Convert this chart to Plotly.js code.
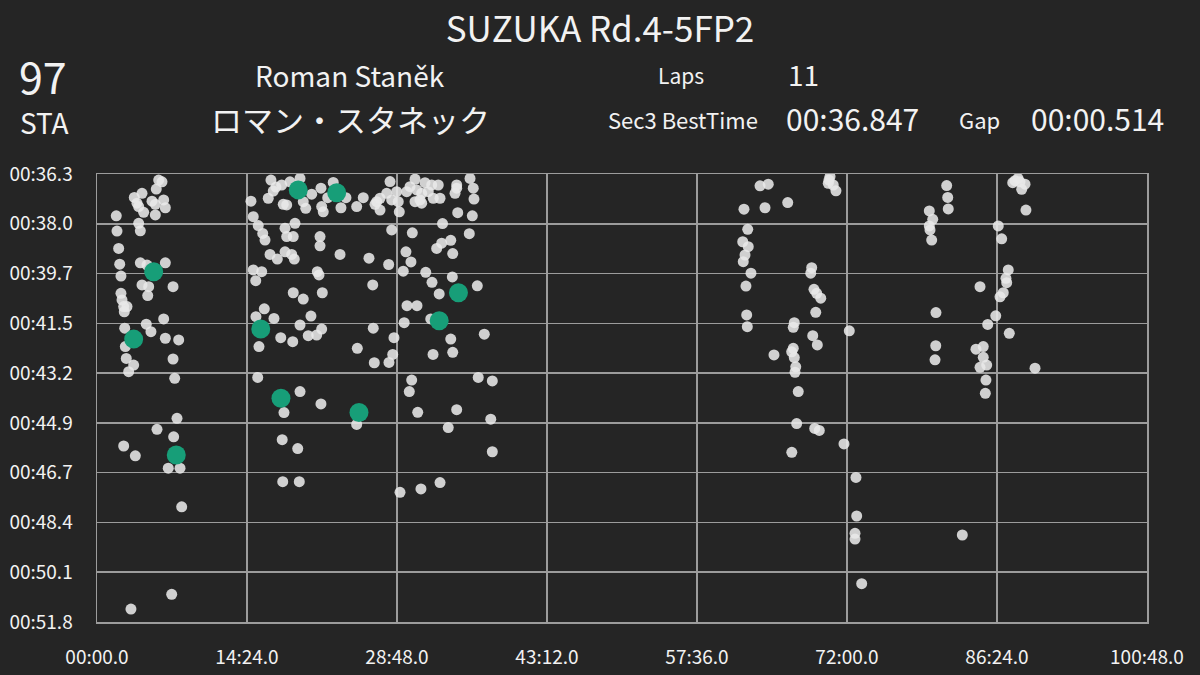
<!DOCTYPE html>
<html>
<head>
<meta charset="utf-8">
<script src="https://cdn.plot.ly/plotly-3.0.1.min.js"></script>
<style>html,body{margin:0;padding:0;background:#252525;}#chart{width:1200px;height:675px;}</style>
</head>
<body>
<div id="chart"></div>
<script>
// ---- Data ----
// Elapsed session time (minutes) and Sector 3 time (seconds) for all other laps
const otherElapsedMin = [
  5.92,6.24,5.69,4.32,3.58,3.84,4.00,5.28,5.60,6.40,6.56,4.48,5.60,1.85,4.00,4.16,1.92,2.08,2.18,2.30,
  4.16,4.80,6.56,4.32,4.96,7.30,4.87,2.30,2.40,2.56,2.88,2.62,6.40,4.73,5.18,2.66,6.56,7.84,2.72,2.81,
  3.52,3.04,7.30,7.46,7.68,5.76,7.36,2.56,3.68,6.84,7.97,8.13,7.17,3.26,
  16.70,17.73,16.92,16.44,14.78,18.53,19.49,20.61,21.50,22.68,23.90,25.56,24.93,23.42,21.57,21.72,20.04,17.88,18.21,19.80,
  22.15,26.69,27.17,27.17,17.18,
  15.00,15.48,15.91,16.13,19.01,18.05,18.21,18.84,21.41,21.41,16.61,17.31,18.05,18.69,18.94,23.33,26.11,15.00,15.81,15.24,
  21.15,21.31,18.84,19.80,21.63,26.47,
  16.06,15.26,16.99,19.49,20.54,21.57,21.09,20.28,17.64,18.79,15.55,24.99,26.52,26.62,15.43,19.49,21.50,17.95,24.93,17.78,
  19.27,17.83,19.42,
  28.13,30.53,31.49,32.13,32.76,34.53,35.81,36.12,34.37,34.53,29.73,28.77,27.81,26.85,28.29,28.92,30.69,31.17,31.80,31.01,
  32.28,32.93,30.53,29.02,31.17,36.19,34.63,36.03,30.05,
  28.29,30.27,33.17,35.74,33.96,33.09,32.61,34.15,29.66,30.14,28.00,29.40,31.56,34.11,32.16,36.51,32.85,29.76,30.72,29.49,
  32.04,28.51,33.96,37.18,32.26,34.15,28.39,28.03,30.21,29.98,36.60,37.95,30.79,34.53,37.80,33.72,37.95,32.93,31.10,29.09,
  70.37,70.20,70.68,70.94,70.27,63.65,64.44,62.11,64.13,66.31,62.47,61.99,62.52,62.21,62.04,62.78,62.30,62.37,62.43,68.61,
  68.52,68.83,69.09,69.48,69.00,66.94,66.84,68.71,69.15,72.22,64.99,66.84,66.69,66.94,67.08,67.01,67.32,67.17,68.90,69.34,
  71.71,66.70,72.86,72.93,72.77,72.77,73.41,
  81.57,81.67,81.72,79.90,80.23,79.90,79.97,80.13,88.13,88.61,89.09,87.91,88.77,88.42,89.18,86.52,86.85,87.48,87.26,87.33,
  84.77,87.00,86.69,80.54,86.28,85.51,87.58,80.52,80.45,85.08,84.38,85.08,85.41,84.77,90.05,85.34,85.28,83.07
];
const otherSec3 = [
  36.50,36.56,36.81,36.96,37.10,37.30,37.42,37.23,37.34,37.19,37.46,37.62,37.71,37.74,38.00,38.26,38.27,38.87,39.42,39.83,
  39.37,39.45,39.37,40.14,40.20,40.20,40.51,40.43,40.66,40.89,40.89,41.07,41.32,41.50,41.76,41.64,41.99,42.05,42.28,42.69,
  42.92,43.15,42.71,43.38,44.77,45.15,45.41,45.73,46.07,46.50,46.50,47.84,50.88,51.39,
  36.50,36.67,36.88,37.13,37.23,36.56,36.44,36.99,36.78,36.58,37.11,37.11,37.42,37.46,37.42,37.60,37.48,37.34,37.36,37.25,
  37.11,37.34,37.13,37.54,36.74,
  37.77,38.08,38.35,38.58,38.00,38.17,38.46,38.46,38.46,38.78,39.08,39.24,38.99,39.08,39.24,39.08,39.21,39.62,39.68,39.99,
  39.68,39.79,40.41,40.63,40.41,40.14,
  40.97,41.24,41.30,41.53,41.22,41.67,41.88,41.90,41.97,42.11,42.28,42.34,41.64,42.84,43.35,43.84,44.27,44.57,44.98,45.51,
  45.82,46.97,46.97,
  36.55,36.47,36.59,36.67,36.67,36.67,36.44,36.78,36.96,36.78,36.90,36.90,36.96,37.25,37.19,37.25,36.84,36.96,36.90,37.19,
  37.13,37.13,37.25,37.60,37.30,37.16,37.63,37.74,36.73,
  38.23,38.33,38.01,38.36,38.59,38.69,38.87,39.05,38.99,39.34,39.43,39.66,39.70,39.86,40.05,40.17,40.45,40.86,40.86,41.45,
  41.32,41.97,42.02,41.85,42.55,42.48,42.55,42.83,43.44,43.84,43.35,43.47,44.56,44.47,44.80,45.09,45.93,47.00,47.22,47.34,
  36.38,36.61,36.67,36.87,36.50,36.70,36.64,37.51,37.46,37.28,38.21,38.64,38.81,39.10,39.33,39.73,40.18,41.18,41.59,39.54,
  39.73,40.29,40.43,40.60,41.09,41.45,41.61,41.90,42.22,41.73,42.57,42.34,42.46,42.66,42.98,43.17,43.84,44.95,45.12,45.19,
  45.66,45.95,46.82,48.16,48.76,48.96,50.51,
  36.69,37.10,37.50,37.57,37.86,38.09,38.23,38.58,36.52,36.56,36.64,36.59,36.82,36.44,37.54,38.09,38.54,39.62,39.91,40.06,
  40.20,40.41,40.55,41.10,41.21,41.51,41.82,42.25,42.74,42.28,42.37,42.65,42.92,43.00,43.03,43.44,43.90,48.82
];
// Driver #97 laps
const driverElapsedMin = [5.44, 3.52, 7.61, 19.32, 23.01, 15.72, 17.66, 25.15, 32.85, 34.70];
const driverSec3 = [39.68, 42.02, 46.04, 36.84, 36.94, 41.67, 44.07, 44.57, 41.38, 40.41];

// Axis ticks
const xTickVals = [0, 14.4, 28.8, 43.2, 57.6, 72.0, 86.4, 100.8];
const xTickText = ["00:00.0", "14:24.0", "28:48.0", "43:12.0", "57:36.0", "72:00.0", "86:24.0", "100:48.0"];
const yTickVals = [36.288, 38.016, 39.744, 41.472, 43.2, 44.928, 46.656, 48.384, 50.112, 51.84];
const yTickText = ["00:36.3", "00:38.0", "00:39.7", "00:41.5", "00:43.2", "00:44.9", "00:46.7", "00:48.4", "00:50.1", "00:51.8"];

// Header texts
const titleText = "SUZUKA Rd.4-5FP2";
const carNumber = "97";
const driverCode = "STA";
const driverName = "Roman Staněk";
const driverNameJa = "ロマン・スタネック";
const lapsLabel = "Laps";
const lapsValue = "11";
const bestLabel = "Sec3 BestTime";
const bestValue = "00:36.847";
const gapLabel = "Gap";
const gapValue = "00:00.514";

// ---- Chart ----
const FONT = '"Noto Sans CJK JP", "Noto Sans", sans-serif';
const TXT = '#f2f2f2';
const GRID = '#9c9c9c';

const traces = [
  {
    type: 'scatter', mode: 'markers',
    x: otherElapsedMin, y: otherSec3,
    marker: {size: 11, color: 'rgba(232,232,232,0.88)', line: {width: 0}},
    hoverinfo: 'skip'
  },
  {
    type: 'scatter', mode: 'markers',
    x: driverElapsedMin, y: driverSec3,
    marker: {size: 19, color: '#179e78', line: {width: 0}},
    hoverinfo: 'skip'
  }
];

function ann(text, px, py, size) {
  return {
    text: text, xref: 'paper', yref: 'paper',
    x: (px - 97) / 1050, y: (622 - py) / 448,
    xanchor: 'center', yanchor: 'middle', showarrow: false,
    font: {family: FONT, size: size, color: TXT}
  };
}

const layout = {
  width: 1200, height: 675,
  paper_bgcolor: '#252525', plot_bgcolor: '#252525',
  margin: {l: 97, r: 53, t: 174, b: 53},
  showlegend: false,
  font: {family: FONT, color: TXT},
  title: {
    text: titleText, x: 0.5, xref: 'container', xanchor: 'center',
    y: 1 - 30 / 675, yref: 'container', yanchor: 'middle',
    font: {family: FONT, size: 35, color: TXT}
  },
  xaxis: {
    range: [0, 100.8], tickvals: xTickVals, ticktext: xTickText,
    showgrid: true, gridcolor: GRID, gridwidth: 1.5,
    showline: true, linecolor: GRID, linewidth: 1.5, mirror: true,
    zeroline: false, ticks: '', ticklabelstandoff: 18,
    tickfont: {family: FONT, size: 19, color: TXT}
  },
  yaxis: {
    range: [51.84, 36.288], tickvals: yTickVals, ticktext: yTickText,
    showgrid: true, gridcolor: GRID, gridwidth: 1.5,
    showline: true, linecolor: GRID, linewidth: 1.5, mirror: true,
    zeroline: false, ticks: '', ticklabelstandoff: 19,
    tickfont: {family: FONT, size: 19, color: TXT}
  },
  annotations: [
    ann(carNumber, 43, 75, 43),
    ann(driverCode, 44, 122, 28),
    ann(driverName, 350, 75, 28),
    ann(driverNameJa, 350, 118, 31),
    ann(lapsLabel, 681, 75, 21),
    ann(lapsValue, 803, 74, 28),
    ann(bestLabel, 683, 119, 22),
    ann(bestValue, 852, 118, 30),
    ann(gapLabel, 979, 119, 22),
    ann(gapValue, 1097, 118, 30)
  ]
};

Plotly.newPlot('chart', traces, layout, {staticPlot: true, displayModeBar: false});
</script>
</body>
</html>
